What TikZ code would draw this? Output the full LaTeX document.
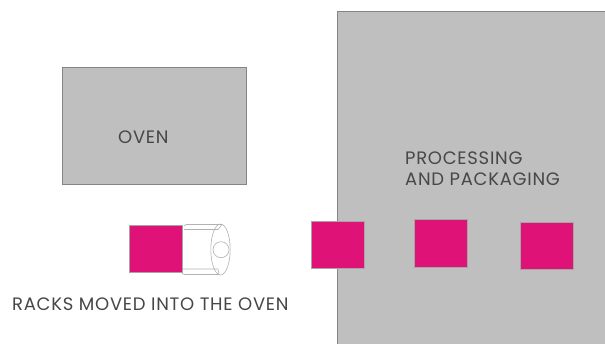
\documentclass[tikz,border=0pt]{standalone}
\usepackage{fontspec}
\setmainfont[LetterSpace=4]{Poppins}
\tikzset{
  area/.style={draw=black!48,fill=black!25,line width=0.7pt,rectangle,minimum size=0pt,inner sep=0pt},
  rack/.style={draw=black!35,fill=rackpink,line width=0.5pt},
  truck/.style={draw=black!30,line width=0.6pt,line join=round},
  lbl/.style={text=black!72,inner sep=0pt,font=\fontsize{18pt}{21pt}\selectfont,align=left}
}
\definecolor{rackpink}{RGB}{223,18,119}
\begin{document}
\begin{tikzpicture}[x=1pt,y=-1pt]
\useasboundingbox (0,0) rectangle (605,343);
\fill[white] (0,0) rectangle (605,343);
% large areas
\path[area] (62,67.5) rectangle (246.5,184.5);
\path[area] (337,11.5) rectangle (606,344);
% truck
\draw[truck] (184,226) -- (186,224.5) -- (222,224.5) -- (218,229.5) -- (184,229.5);
\draw[truck] (182,269) -- (218,269) -- (219,274.5) -- (184,274.5) -- (181,272);
\draw[truck] (220.5,249.5) ellipse [x radius=9.7,y radius=25.5];
\draw[truck] (221,249.7) circle [radius=8];
% racks
\path[rack] (129,225.5) rectangle (182.5,272.5);
\path[rack] (311,221) rectangle (364,268);
\path[rack] (414,219.5) rectangle (467,267);
\path[rack] (520.5,222) rectangle (573.5,269);
% labels
\node[lbl,anchor=west] (oven) at (118,137) {OVEN};
\node[lbl,anchor=north west] (proc) at (405,151.5) {PROCESSING\\AND PACKAGING};
\node[lbl,anchor=west] (racks) at (12,304) {RACKS MOVED INTO THE OVEN};
\end{tikzpicture}
\end{document}
